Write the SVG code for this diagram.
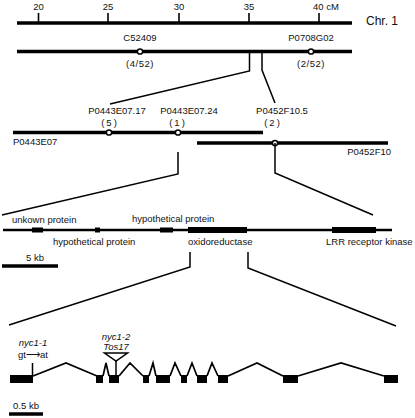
<svg xmlns="http://www.w3.org/2000/svg" width="415" height="418" viewBox="0 0 415 418">
<style>
text{font-family:"Liberation Sans",Arial,sans-serif;font-size:9.5px;fill:#111}
.m{text-anchor:middle}
.i{font-style:italic}
.thick{stroke:#000;stroke-width:3.6;fill:none}
.gene{stroke:#000;stroke-width:2.4;fill:none}
.conn{stroke:#000;stroke-width:1.5;fill:none}
.tick{stroke:#000;stroke-width:1.6}
.mk{fill:#fff;stroke:#000;stroke-width:1.5}
.ex{fill:#000}
.intron{stroke:#000;stroke-width:1.7;fill:none;stroke-linejoin:miter}
</style>
<g id="chr-axis">
<line class="thick" x1="17" y1="23" x2="352" y2="23"/>
<line class="tick" x1="38.5" y1="13" x2="38.5" y2="23"/>
<line class="tick" x1="108" y1="13" x2="108" y2="23"/>
<line class="tick" x1="179" y1="13" x2="179" y2="23"/>
<line class="tick" x1="249" y1="13" x2="249" y2="23"/>
<line class="tick" x1="319" y1="13" x2="319" y2="23"/>
<text class="m" x="38.5" y="10" font-size="9">20</text>
<text class="m" x="108" y="10" font-size="9">25</text>
<text class="m" x="179" y="10" font-size="9">30</text>
<text class="m" x="249" y="10" font-size="9">35</text>
<text x="313" y="10" font-size="9">40 cM</text>
<text x="366" y="25" style="font-size:12px">Chr. 1</text>
</g>
<g id="region-line">
<line class="thick" x1="17" y1="51.5" x2="352" y2="51.5"/>
<circle class="mk" cx="140" cy="51.5" r="2.6"/>
<circle class="mk" cx="311" cy="51.5" r="2.6"/>
<text class="m" x="140" y="41">C52409</text>
<text class="m" x="140" y="67" letter-spacing="0.5">(4/52)</text>
<text class="m" x="311" y="41">P0708G02</text>
<text class="m" x="311" y="67" letter-spacing="0.5">(2/52)</text>
</g>
<g id="bac-P0443E07">
<line class="thick" x1="13" y1="132.5" x2="263" y2="132.5"/>
<circle class="mk" cx="109" cy="132.5" r="2.6"/>
<circle class="mk" cx="178" cy="132.5" r="2.6"/>
<text x="13" y="145">P0443E07</text>
<text class="m" x="117" y="114">P0443E07.17</text>
<text class="m" x="110" y="126" letter-spacing="2">(5)</text>
<text class="m" x="189" y="114">P0443E07.24</text>
<text class="m" x="178" y="126" letter-spacing="2">(1)</text>
</g>
<g id="bac-P0452F10">
<line class="thick" x1="197" y1="143" x2="388" y2="143"/>
<circle class="mk" cx="275" cy="143" r="2.6"/>
<text x="391" y="155" text-anchor="end">P0452F10</text>
<text class="m" x="282" y="114">P0452F10.5</text>
<text class="m" x="273" y="126" letter-spacing="2">(2)</text>
</g>
<g id="gene-region">
<line class="gene" x1="3" y1="230" x2="392" y2="230"/>
<rect class="ex" x="32" y="227.5" width="11" height="5"/>
<rect class="ex" x="95" y="227.5" width="5" height="5"/>
<rect class="ex" x="160" y="227.5" width="13" height="5"/>
<rect class="ex" x="188" y="227" width="59" height="6"/>
<rect class="ex" x="332" y="227" width="44" height="6"/>
<text x="12" y="223">unkown protein</text>
<text x="132" y="222">hypothetical protein</text>
<text x="53" y="245">hypothetical protein</text>
<text x="188" y="245">oxidoreductase</text>
<text x="326" y="245">LRR receptor kinase</text>
<line class="thick" x1="2" y1="266" x2="58" y2="266" stroke-width="3"/>
<text class="m" x="35" y="261">5 kb</text>
</g>
<g id="gene-structure">
<path class="intron" d="M33,376 L66,363 L97,376 M103,376 L106,363 L109,376 M119,376 L130,363 L143,376 M149,376 L153,363 L156,376 M170,376 L175,363 L181,376 M187,376 L192,363 L197,376 M207,376 L212,363 L218,376 M228,376 L257,363 L283,376 M298,376 L341,363 L384,376"/>
<rect class="ex" x="10" y="375" width="23" height="8"/>
<rect class="ex" x="96" y="375" width="7" height="8"/>
<rect class="ex" x="109" y="375" width="10" height="8"/>
<rect class="ex" x="143" y="375" width="6" height="8"/>
<rect class="ex" x="156" y="375" width="14" height="8"/>
<rect class="ex" x="181" y="375" width="6" height="8"/>
<rect class="ex" x="197" y="375" width="10" height="8"/>
<rect class="ex" x="218" y="375" width="10" height="8"/>
<rect class="ex" x="283" y="375" width="15" height="8"/>
<rect class="ex" x="384" y="375" width="14" height="8"/>
<line class="conn" x1="32.5" y1="363" x2="32.5" y2="376"/>
<text class="m i" x="33" y="346">nyc1-1</text>
<text class="m" x="33" y="358">gt⟶at</text>
<line class="conn" x1="116" y1="361" x2="116" y2="376"/>
<polygon class="mk" points="104.5,353 127.5,353 116,361"/>
<text class="m i" x="116" y="340">nyc1-2</text>
<text class="m i" x="116" y="349.5">Tos17</text>
<line class="thick" x1="9" y1="414" x2="43" y2="414" stroke-width="3"/>
<text class="m" x="26" y="409">0.5 kb</text>
</g>
<g id="connectors">
<polyline class="conn" points="249.5,51.5 249.5,71 110,104"/>
<polyline class="conn" points="262,51.5 262,70 275,103"/>
<polyline class="conn" points="178,152 178,174 2,215"/>
<polyline class="conn" points="275,143 275,173 373,215"/>
<polyline class="conn" points="190,252 190,267 9,325"/>
<polyline class="conn" points="248,252 248,268 396,326"/>
</g>
</svg>
